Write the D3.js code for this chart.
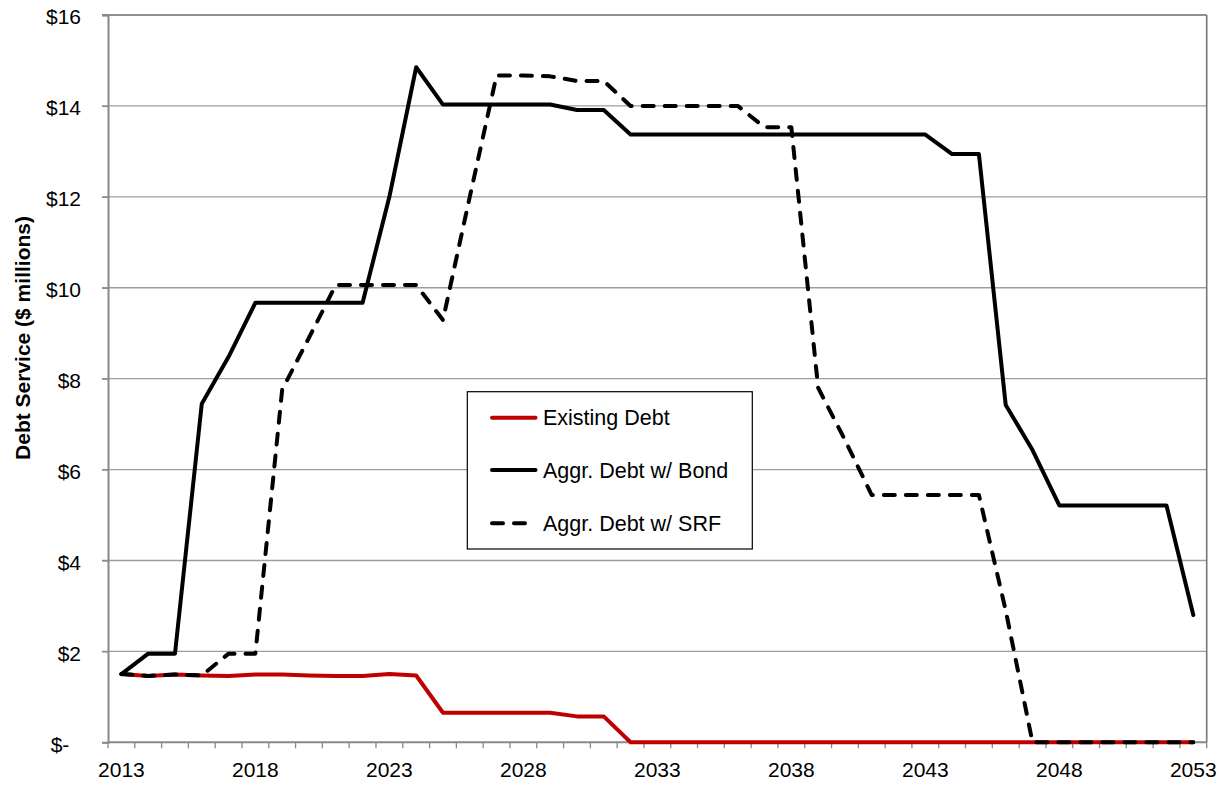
<!DOCTYPE html>
<html>
<head>
<meta charset="utf-8">
<script src="https://cdn.jsdelivr.net/npm/d3@7"></script>
<style>
  html, body { margin: 0; padding: 0; background: #fff; }
  svg { display: block; font-family: "Liberation Sans", Arial, sans-serif; }
</style>
</head>
<body>
<svg id="chart" width="1225" height="786"></svg>
<script>
// Fiscal years on the category axis
const years = d3.range(2013, 2054).map(String);

// Annual debt service, $ millions
const existingDebt = [
  1.50, 1.46, 1.49, 1.47, 1.46, 1.49, 1.49, 1.47, 1.46, 1.46, 1.50, 1.47,
  0.65, 0.65, 0.65, 0.65, 0.65, 0.57, 0.57,
  0, 0, 0, 0, 0, 0, 0, 0, 0, 0, 0, 0, 0, 0, 0, 0, 0, 0, 0, 0, 0, 0
];
const debtWithBond = [
  1.50, 1.95, 1.95, 7.45, 8.48, 9.67, 9.67, 9.67, 9.67, 9.67, 12.0, 14.85,
  14.03, 14.03, 14.03, 14.03, 14.03, 13.91, 13.91, 13.37,
  13.37, 13.37, 13.37, 13.37, 13.37, 13.37, 13.37, 13.37, 13.37, 13.37, 13.37,
  12.94, 12.94, 7.42, 6.43, 5.21, 5.21, 5.21, 5.21, 5.21, 2.80
];
const debtWithSRF = [
  1.50, 1.46, 1.49, 1.47, 1.95, 1.95, 7.76, 8.90, 10.06, 10.06, 10.06, 10.06,
  9.29, 12.0, 14.67, 14.67, 14.65, 14.55, 14.55, 14.00,
  14.00, 14.00, 14.00, 14.00, 13.53, 13.53, 7.80, 6.65, 5.44, 5.44, 5.44, 5.44, 5.44, 2.90,
  0, 0, 0, 0, 0, 0, 0
];

const seriesNames = ["Existing Debt", "Aggr. Debt w/ Bond", "Aggr. Debt w/ SRF"];
const yTicks = [0, 2, 4, 6, 8, 10, 12, 14, 16];
const xLabelYears = ["2013", "2018", "2023", "2028", "2033", "2038", "2043", "2048", "2053"];
const yTitle = "Debt Service ($ millions)";

const svg = d3.select("#chart");
const plot = { left: 108, right: 1206.7, top: 15, bottom: 742.3 };

const x = d3.scaleBand().domain(years).range([plot.left, plot.right]).padding(0);
const xc = d => x(d) + x.bandwidth() / 2;
const y = d3.scaleLinear().domain([0, 16]).range([plot.bottom, plot.top]);

// horizontal gridlines
svg.append("g")
  .selectAll("line")
  .data(yTicks.filter(v => v > 0 && v < 16))
  .join("line")
  .attr("x1", plot.left - 6).attr("x2", plot.right)
  .attr("y1", d => y(d)).attr("y2", d => y(d))
  .attr("stroke", "#9d9d9d").attr("stroke-width", 1.3);

// plot frame: top and right edges
svg.append("line")
  .attr("x1", plot.left - 6).attr("x2", plot.right)
  .attr("y1", y(16)).attr("y2", y(16))
  .attr("stroke", "#222").attr("stroke-width", 1.2);
svg.append("line")
  .attr("x1", plot.right).attr("x2", plot.right)
  .attr("y1", plot.top).attr("y2", plot.bottom)
  .attr("stroke", "#777").attr("stroke-width", 1.6);

// y axis
const fmtY = v => v === 0 ? "$-\u00a0\u00a0" : "$" + v;
const yAxis = svg.append("g")
  .attr("transform", `translate(${plot.left},0)`)
  .call(d3.axisLeft(y).tickValues(yTicks).tickSize(6).tickPadding(21).tickFormat(fmtY));
yAxis.select(".domain").attr("stroke", "#888").attr("stroke-width", 2);
yAxis.selectAll(".tick line").attr("stroke", "#888").attr("stroke-width", 1.3);
yAxis.selectAll(".tick text")
  .attr("font-size", 21).attr("fill", "#000").attr("dy", "0.42em")
  .style("white-space", "pre").attr("font-family", "Liberation Sans, Arial, sans-serif");

// x axis: tick marks on category boundaries, labels every fifth year
const xAxis = svg.append("g").attr("transform", `translate(0,${plot.bottom})`);
xAxis.append("line")
  .attr("x1", plot.left).attr("x2", plot.right)
  .attr("stroke", "#888").attr("stroke-width", 2);
xAxis.selectAll("line.tk")
  .data(years.map(d => x(d)).concat([x.range()[1]]))
  .join("line").attr("class", "tk")
  .attr("x1", d => d).attr("x2", d => d)
  .attr("y1", 0).attr("y2", 6)
  .attr("stroke", "#888").attr("stroke-width", 1.3);
xAxis.selectAll("text")
  .data(xLabelYears)
  .join("text")
  .attr("x", d => xc(d)).attr("y", 34.5)
  .attr("text-anchor", "middle").attr("font-size", 21).attr("fill", "#000")
  .text(d => d);

// y axis title
svg.append("text")
  .attr("transform", "translate(29.5,338) rotate(-90)")
  .attr("text-anchor", "middle")
  .attr("font-size", 21).attr("font-weight", "bold").attr("fill", "#000")
  .text(yTitle);

// series lines
const line = d3.line().x((d, i) => xc(years[i])).y(d => y(d));
const styles = [
  { data: existingDebt, color: "#c00000", dash: null },
  { data: debtWithBond, color: "#000", dash: null },
  { data: debtWithSRF, color: "#000", dash: "11,11" }
];
svg.append("g").selectAll("path")
  .data(styles)
  .join("path")
  .attr("d", s => line(s.data))
  .attr("fill", "none")
  .attr("stroke", s => s.color)
  .attr("stroke-width", 4)
  .attr("stroke-linejoin", "round")
  .attr("stroke-linecap", "round")
  .attr("stroke-dasharray", s => s.dash);

// legend
const lg = svg.append("g");
lg.append("rect")
  .attr("x", 467.3).attr("y", 391.7).attr("width", 285).attr("height", 157.3)
  .attr("fill", "#fff").attr("stroke", "#000").attr("stroke-width", 1.2);
const rows = [417.7, 470, 523.3];
const items = lg.selectAll("g.item")
  .data(styles.map((s, i) => ({ ...s, name: seriesNames[i], cy: rows[i] })))
  .join("g").attr("class", "item");
items.append("line")
  .attr("x1", 492).attr("x2", 535.5)
  .attr("y1", d => d.cy).attr("y2", d => d.cy)
  .attr("stroke", d => d.color).attr("stroke-width", 4)
  .attr("stroke-linecap", "round")
  .attr("stroke-dasharray", d => d.dash);
items.append("text")
  .attr("x", 543).attr("y", d => d.cy).attr("dy", "0.36em")
  .attr("font-size", 21.5).attr("fill", "#000")
  .text(d => d.name);
</script>
</body>
</html>
